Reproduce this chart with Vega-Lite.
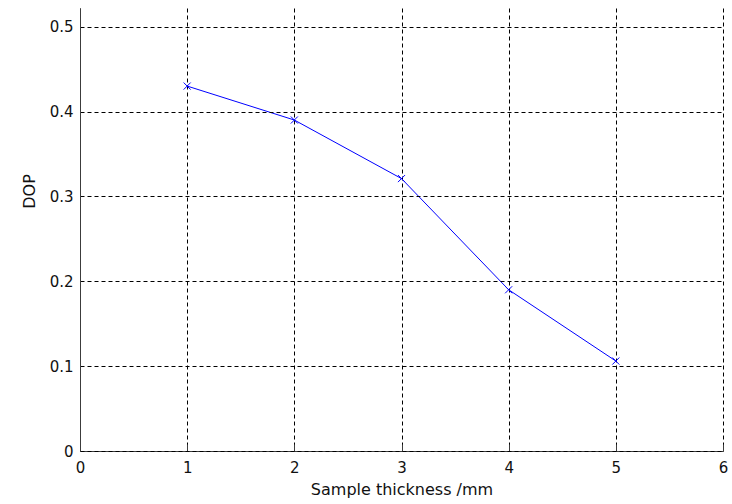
{
  "$schema": "https://vega.github.io/schema/vega-lite/v6.json",
  "width": 643,
  "height": 443,
  "autosize": {"type": "none"},
  "padding": {"left": 80, "top": 8, "right": 9, "bottom": 53},
  "background": "white",
  "config": {
    "view": {"stroke": null},
    "font": "DejaVu Sans",
    "axis": {
      "domainColor": "#3c3c3c",
      "domainWidth": 1,
      "gridColor": "#000000",
      "gridDash": [4, 3],
      "gridOpacity": 1,
      "gridWidth": 1,
      "labelFont": "DejaVu Sans",
      "labelFontSize": 15,
      "labelColor": "#111111",
      "titleFont": "DejaVu Sans",
      "titleFontSize": 16,
      "titleFontWeight": "normal",
      "titleColor": "#111111",
      "tickColor": "#3c3c3c"
    }
  },
  "data": {
    "values": [
      {"thickness": 1, "dop": 0.43},
      {"thickness": 2, "dop": 0.39},
      {"thickness": 3, "dop": 0.321},
      {"thickness": 4, "dop": 0.19},
      {"thickness": 5, "dop": 0.106}
    ]
  },
  "encoding": {
    "x": {
      "field": "thickness",
      "type": "quantitative",
      "scale": {"domain": [0, 6], "nice": false},
      "axis": {
        "title": "Sample thickness /mm",
        "values": [0, 1, 2, 3, 4, 5, 6],
        "format": "d",
        "ticks": true,
        "tickSize": -7,
        "labelPadding": 16,
        "titlePadding": 6,
        "labelFlush": false
      }
    },
    "y": {
      "field": "dop",
      "type": "quantitative",
      "scale": {"domain": [0, 0.522], "nice": false},
      "axis": {
        "title": "DOP",
        "values": [0, 0.1, 0.2, 0.3, 0.4, 0.5],
        "labelExpr": "datum.value === 0 ? '0' : format(datum.value, '.1f')",
        "ticks": false,
        "labelPadding": 7,
        "titlePadding": 12,
        "titleY": 183,
        "zindex": 1,
        "labelFlush": false
      }
    }
  },
  "layer": [
    {
      "mark": {"type": "line", "color": "#0000ff", "strokeWidth": 1}
    },
    {
      "mark": {
        "type": "point",
        "shape": "M-1,-1L1,1M-1,1L1,-1",
        "filled": false,
        "color": "#0000ff",
        "strokeWidth": 1,
        "size": 50,
        "opacity": 1
      }
    }
  ]
}
